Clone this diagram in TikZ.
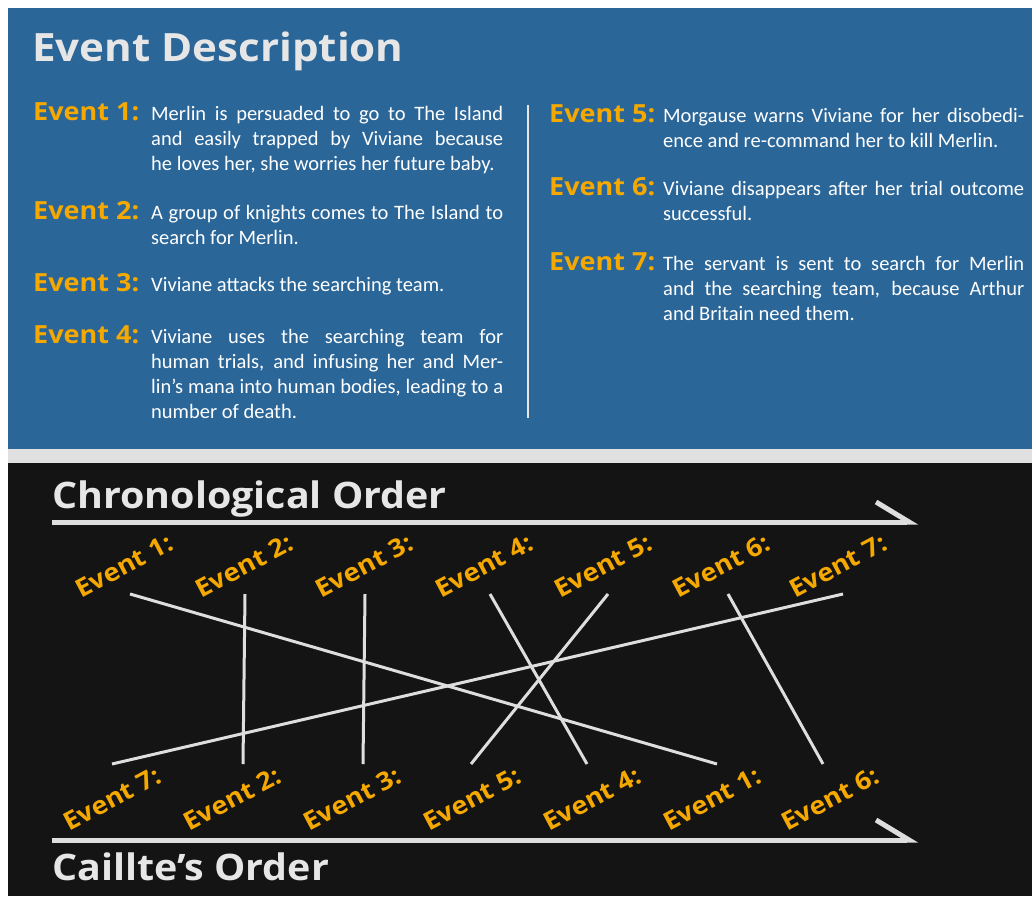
\documentclass[tikz,border=0pt]{standalone}
\usepackage{fontspec}
\setmainfont{Carlito}
\newfontfamily\headfont{Open Sans}[FakeStretch=1.08]
\newfontfamily\bodyfont{Carlito}
\usetikzlibrary{arrows.meta}
\definecolor{panelblue}{RGB}{43,102,153}
\definecolor{panelblack}{RGB}{20,20,20}
\definecolor{bandgray}{RGB}{224,224,224}
\definecolor{evorange}{RGB}{245,168,0}
\definecolor{headgray}{RGB}{230,230,230}
\definecolor{linegray}{RGB}{222,222,222}

\begin{document}
\tolerance=9999
\hyphenpenalty=10000
\begin{tikzpicture}[x=1pt, y=-1pt,
    heading/.style={anchor=base west, inner sep=0pt, text=headgray,
                    font=\headfont\bfseries\fontsize{39}{46}\selectfont},
    subheading/.style={heading, font=\headfont\bfseries\fontsize{36.5}{44}\selectfont},
    evlabel/.style={anchor=base west, inner sep=0pt, text=evorange,
                    font=\headfont\bfseries\fontsize{25}{30}\selectfont},
    evtag/.style={inner sep=0pt, text=evorange, rotate=28,
                  font=\headfont\bfseries\fontsize{25}{30}\selectfont},
    desc/.style={anchor=base west, inner sep=0pt, text=white, text width=352pt,
                 align=justify, font=\bodyfont\fontsize{20.5}{25}\selectfont},
    timeline/.style={draw=linegray, line width=5pt,
                     -{Straight Barb[harpoon, length=33pt, width=40pt]}},
    link/.style={draw=linegray, line width=3pt}
]
\useasboundingbox (0,0) rectangle (1032,896);
\fill[white] (0,0) rectangle (1032,896);
\fill[panelblue] (8,8) rectangle (1032,449);
\fill[bandgray] (8,449) rectangle (1032,463);
\fill[panelblack] (8,463) rectangle (1032,896);

\node[heading] (title) at (32,62) {Event Description};

\node[evlabel] (l1) at (33,121) {Event 1:};
\node[desc] (d1) at (151,121) {Merlin is persuaded to go to The Island\linebreak
  and easily trapped by Viviane because\linebreak
  he loves her, she worries her future baby.};
\node[evlabel] (l2) at (33,219) {Event 2:};
\node[desc] (d2) at (151,219) {A group of knights comes to The Island to\linebreak
  search for Merlin.};
\node[evlabel] (l3) at (33,291) {Event 3:};
\node[desc] (d3) at (151,291) {Viviane attacks the searching team.};
\node[evlabel] (l4) at (33,343) {Event 4:};
\node[desc] (d4) at (151,343) {Viviane uses the searching team for\linebreak
  human trials, and infusing her and Mer-\linebreak
  lin’s mana into human bodies, leading to a\linebreak
  number of death.};

\draw[draw=headgray, line width=2.5pt] (528,105) -- (528,418);

\node[evlabel] (l5) at (549,123) {Event 5:};
\node[desc, text width=361pt] (d5) at (663,123) {Morgause warns Viviane for her disobedi-\linebreak
  ence and re-command her to kill Merlin.};
\node[evlabel] (l6) at (549,195) {Event 6:};
\node[desc, text width=361pt] (d6) at (663,195) {Viviane disappears after her trial outcome\linebreak
  successful.};
\node[evlabel] (l7) at (549,270) {Event 7:};
\node[desc, text width=361pt] (d7) at (663,270) {The servant is sent to search for Merlin\linebreak
  and the searching team, because Arthur\linebreak
  and Britain need them.};

\node[subheading] (chrono) at (52,508) {Chronological Order};
\node[subheading] (caillte) at (52,880) {Caillte’s Order};

\coordinate (chronoL) at (52,522);
\coordinate (chronoR) at (918,522);
\coordinate (cailL) at (52,840);
\coordinate (cailR) at (918,840);
\draw[timeline] (chronoL) -- (chronoR);
\draw[timeline] (cailL) -- (cailR);

\foreach \i/\x in {1/124,2/244,3/364,4/484,5/603,6/721,7/838}
    \node[evtag] (c\i) at (\x,566) {Event \i:};
\foreach \i/\x in {7/112,2/232,3/352,5/472,4/592,1/712,6/830}
    \node[evtag] (o\i) at (\x,799) {Event \i:};

\foreach \i/\x in {1/130,2/245,3/365,4/490,5/608,6/728,7/843}
    \coordinate (t\i) at (\x,594);
\foreach \i/\x in {1/717,2/243,3/363,4/587,5/471,6/823,7/112}
    \coordinate (b\i) at (\x,764);
\foreach \i in {1,...,7}
    \draw[link] (t\i) -- (b\i);
\end{tikzpicture}
\end{document}
